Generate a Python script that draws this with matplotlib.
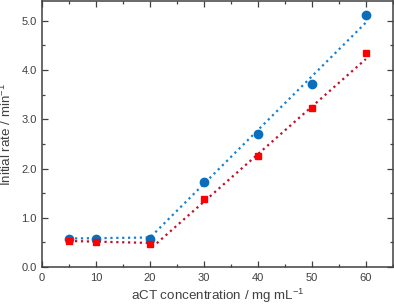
import matplotlib
matplotlib.use('Agg')
from matplotlib import pyplot as plt
from matplotlib.ticker import MultipleLocator, FormatStrFormatter

conc = [5, 10, 20, 30, 40, 50, 60]
rate_blue = [0.57, 0.58, 0.58, 1.73, 2.69, 3.72, 5.12]
rate_red = [0.52, 0.50, 0.47, 1.38, 2.25, 3.23, 4.35]

# dotted guide lines
fit_blue_x = [5, 20, 60]
fit_blue_y = [0.58, 0.60, 4.96]
fit_red_x = [5, 20, 21, 60]
fit_red_y = [0.53, 0.49, 0.46, 4.22]

plt.rcParams['font.family'] = ['Liberation Sans', 'DejaVu Sans']
plt.rcParams['mathtext.fontset'] = 'custom'
plt.rcParams['mathtext.rm'] = 'Liberation Sans'
grey = '#404040'

fig = plt.figure(figsize=(3.94, 3.07), dpi=100)
ax = fig.add_axes([0.107, 0.13, 0.89, 0.867])

ax.plot(fit_blue_x, fit_blue_y, ':', color='#1a7fd0', lw=1.6, zorder=2)
ax.plot(fit_red_x, fit_red_y, ':', color='#c0102a', lw=1.6, zorder=2)
ax.plot(conc, rate_blue, 'o', color='#0a6ebd', ms=6, zorder=3)
ax.plot(conc, rate_red, 's', color='#ff0000', ms=5, zorder=3)

ax.set_xlim(0, 65)
ax.set_ylim(0, 5.4)
ax.xaxis.set_major_locator(MultipleLocator(10))
ax.xaxis.set_minor_locator(MultipleLocator(5))
ax.yaxis.set_major_locator(MultipleLocator(1))
ax.yaxis.set_minor_locator(MultipleLocator(0.5))
ax.yaxis.set_major_formatter(FormatStrFormatter('%.1f'))

ax.tick_params(which='both', direction='in', top=True, right=True,
               color=grey, labelcolor=grey, labelsize=8, width=0.9)
ax.tick_params(which='major', length=4.5, pad=4)
ax.tick_params(which='minor', length=2.5)
for s in ax.spines.values():
    s.set_color(grey)
    s.set_linewidth(1.1)

ax.set_xlabel('aCT concentration / mg mL$^{\\mathrm{-1}}$', fontsize=9.6, color=grey, labelpad=3)
ax.set_ylabel('Initial rate / min$^{\\mathrm{-1}}$', fontsize=9.6, color=grey, labelpad=5)

fig.savefig('out.png', dpi=100)
